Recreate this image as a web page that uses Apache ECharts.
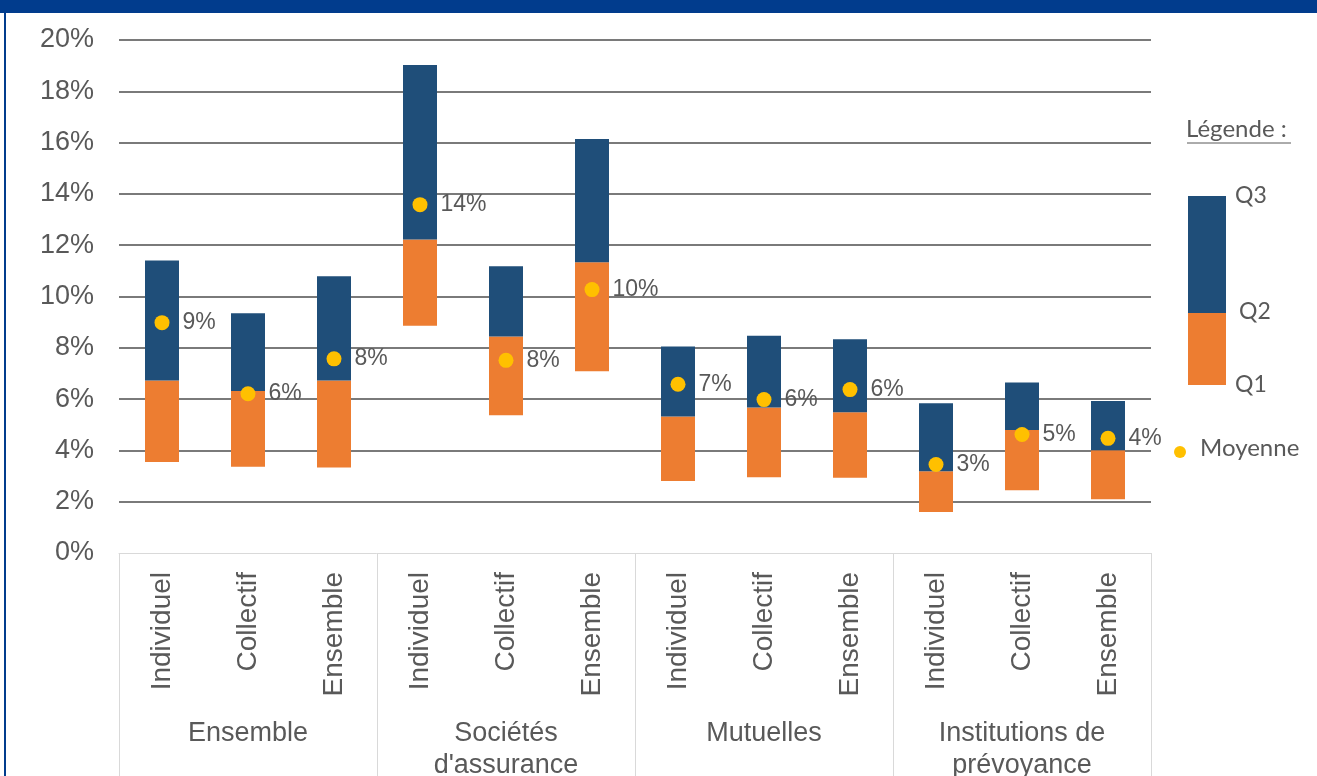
<!DOCTYPE html>
<html>
<head>
<meta charset="utf-8">
<title>Quartiles par type d'organisme</title>
<script src="https://cdn.jsdelivr.net/npm/echarts@6/dist/echarts.min.js"></script>
<style>
  html, body { margin: 0; padding: 0; background: #ffffff; overflow: hidden; }
  #chart { width: 1317px; height: 776px; }
</style>
</head>
<body>
<div id="chart"></div>
<script>
// Sub-categories (contract type) and their groups (type of organisation)
const sousCategories = [
  'Individuel', 'Collectif', 'Ensemble',
  'Individuel', 'Collectif', 'Ensemble',
  'Individuel', 'Collectif', 'Ensemble',
  'Individuel', 'Collectif', 'Ensemble'
];
const groupes = ['Ensemble', "Sociétés\nd'assurance", 'Mutuelles', 'Institutions de\nprévoyance'];

// Quartiles and mean, as fractions
const q1 = [0.0355, 0.0336, 0.0333, 0.0886, 0.0537, 0.0709, 0.0281, 0.0295, 0.0293, 0.0160, 0.0245, 0.0210];
const q2 = [0.0673, 0.0632, 0.0673, 0.1222, 0.0844, 0.1134, 0.0532, 0.0567, 0.0549, 0.0319, 0.0480, 0.0401];
const q3 = [0.1140, 0.0935, 0.1079, 0.1903, 0.1118, 0.1614, 0.0805, 0.0847, 0.0833, 0.0584, 0.0665, 0.0593];
const moyenne = [0.0898, 0.0621, 0.0757, 0.1358, 0.0751, 0.1027, 0.0658, 0.0598, 0.0637, 0.0345, 0.0462, 0.0447];

// Y axis ticks
const yMin = 0, yMax = 0.20, yStep = 0.02;

const BLEU = '#1F4E79';
const ORANGE = '#ED7D31';
const JAUNE = '#FFC000';
const TEXTE = '#595959';
const CADRE = '#013C8D';
const FONT = '"Liberation Sans", Arial, sans-serif';
const FONT_LEGENDE = 'Lato, "Open Sans", sans-serif';

// Stacked segments: invisible base up to Q1, then Q1→Q2, then Q2→Q3
const base = q1.slice();
const segQ1Q2 = q2.map((v, i) => +(v - q1[i]).toFixed(5));
const segQ2Q3 = q3.map((v, i) => +(v - q2[i]).toFixed(5));

const nbLignes = Math.round((yMax - yMin) / yStep) + 1;
const couleursGrille = Array.from({ length: nbLignes }, (_, i) => i === 0 ? 'rgba(0,0,0,0)' : '#7a7a7a');

const chart = echarts.init(document.getElementById('chart'), null, { renderer: 'canvas', width: 1317, height: 776 });

chart.setOption({
  backgroundColor: '#ffffff',
  animation: false,
  grid: { left: 119, width: 1032, top: 40, height: 513, containLabel: false, outerBoundsMode: 'none' },
  xAxis: [
    {
      type: 'category',
      data: sousCategories,
      position: 'bottom',
      axisLine: { show: true, lineStyle: { color: '#d9d9d9', width: 1 } },
      axisTick: { show: false },
      axisLabel: {
        interval: 0,
        rotate: 90,
        margin: 19,
        fontSize: 28,
        fontFamily: FONT,
        color: TEXTE
      }
    },
    {
      type: 'category',
      data: groupes,
      position: 'bottom',
      boundaryGap: true,
      axisLine: { show: false },
      axisTick: { show: true, length: 240, interval: 0, lineStyle: { color: '#d9d9d9', width: 1 } },
      axisLabel: {
        interval: 0,
        margin: 165,
        fontSize: 27,
        lineHeight: 32,
        fontFamily: FONT,
        color: TEXTE,
        align: 'center'
      }
    }
  ],
  yAxis: {
    type: 'value',
    min: yMin,
    max: yMax,
    interval: yStep,
    axisLine: { show: false },
    axisTick: { show: false },
    axisLabel: {
      margin: 25,
      fontSize: 27,
      fontFamily: FONT,
      color: TEXTE,
      formatter: v => Math.round(v * 100) + '%'
    },
    splitLine: { show: true, lineStyle: { color: couleursGrille, width: 2 } }
  },
  series: [
    {
      name: 'base',
      type: 'bar',
      stack: 'q',
      barWidth: 34,
      data: base,
      itemStyle: { color: 'rgba(0,0,0,0)' },
      silent: true
    },
    {
      name: 'Q1-Q2',
      type: 'bar',
      stack: 'q',
      barWidth: 34,
      data: segQ1Q2,
      itemStyle: { color: ORANGE }
    },
    {
      name: 'Q2-Q3',
      type: 'bar',
      stack: 'q',
      barWidth: 34,
      data: segQ2Q3,
      itemStyle: { color: BLEU }
    },
    {
      name: 'Moyenne',
      type: 'scatter',
      data: moyenne,
      symbol: 'circle',
      symbolSize: 15,
      itemStyle: { color: JAUNE, opacity: 1 },
      z: 5,
      label: {
        show: true,
        position: 'right',
        distance: 13,
        fontSize: 23,
        fontFamily: FONT,
        color: TEXTE,
        formatter: p => Math.round(p.value * 100) + '%'
      }
    }
  ],
  graphic: [
    // frame: top band and left edge
    { type: 'rect', left: 0, top: 0, shape: { width: 1317, height: 13 }, style: { fill: CADRE }, z: 100 },
    { type: 'rect', left: 4, top: 0, shape: { width: 2, height: 776 }, style: { fill: CADRE }, z: 100 },

    // legend
    { type: 'text', left: 1186, top: 117, style: { text: 'Légende :', fontSize: 24, fontFamily: FONT_LEGENDE, fill: TEXTE }, z: 100 },
    { type: 'line', shape: { x1: 1187, y1: 143, x2: 1291, y2: 143 }, style: { stroke: TEXTE, lineWidth: 1 }, z: 100 },
    { type: 'rect', shape: { x: 1188, y: 196, width: 38, height: 117 }, style: { fill: BLEU }, z: 100 },
    { type: 'rect', shape: { x: 1188, y: 313, width: 38, height: 72 }, style: { fill: ORANGE }, z: 100 },
    { type: 'text', left: 1235, top: 184, style: { text: 'Q3', fontSize: 23, fontFamily: FONT_LEGENDE, fill: TEXTE }, z: 100 },
    { type: 'text', left: 1239, top: 300, style: { text: 'Q2', fontSize: 23, fontFamily: FONT_LEGENDE, fill: TEXTE }, z: 100 },
    { type: 'text', left: 1235, top: 373, style: { text: 'Q1', fontSize: 23, fontFamily: FONT_LEGENDE, fill: TEXTE }, z: 100 },
    { type: 'circle', shape: { cx: 1180, cy: 452, r: 6 }, style: { fill: JAUNE }, z: 100 },
    { type: 'text', left: 1200, top: 436, style: { text: 'Moyenne', fontSize: 24, fontFamily: FONT_LEGENDE, fill: TEXTE }, z: 100 }
  ]
});
</script>
</body>
</html>
